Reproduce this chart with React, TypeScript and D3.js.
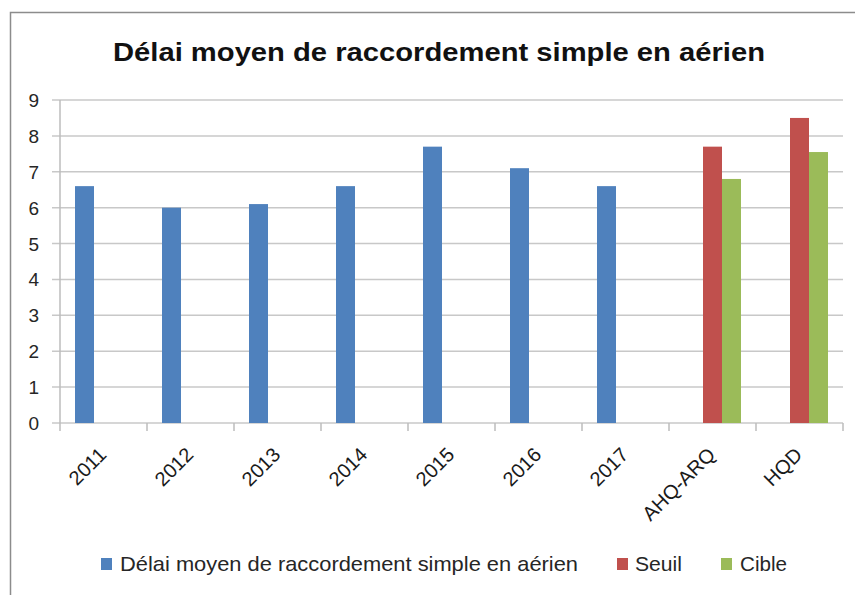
import React from 'react';
import * as d3 from 'd3';

const categories = ['2011', '2012', '2013', '2014', '2015', '2016', '2017', 'AHQ-ARQ', 'HQD'];
const delaiValues = [6.6, 6.0, 6.1, 6.6, 7.7, 7.1, 6.6, null, null];
const seuilValues = [null, null, null, null, null, null, null, 7.7, 8.5];
const cibleValues = [null, null, null, null, null, null, null, 6.8, 7.55];
const seriesNames = ['Délai moyen de raccordement simple en aérien', 'Seuil', 'Cible'];
const seriesColors = ['#4F81BD', '#C0504D', '#9BBB59'];
const yTicks = [0, 1, 2, 3, 4, 5, 6, 7, 8, 9];

const title = 'Délai moyen de raccordement simple en aérien';
const font = '"Liberation Sans", Arial, sans-serif';

const App = () => {
    const width = 855,
          height = 595,
          left = 60,
          right = 843,
          top = 100,
          bottom = 423;

    const series = [delaiValues, seuilValues, cibleValues];

    const x = d3.scaleBand<string>()
        .domain(categories)
        .range([left, right]);

    const xInner = d3.scaleBand<string>()
        .domain(seriesNames)
        .range([0, x.bandwidth()])
        .paddingOuter(0.79);

    const y = d3.scaleLinear()
        .domain([0, 9])
        .range([bottom, top]);

    // category boundaries for the small tick marks under the axis
    const boundaries = categories.map(c => x(c)).concat([right]);

    // legend: square x, text x, text width
    const legendItems = [
        { sq: 101, tx: 120, w: 458 },
        { sq: 617, tx: 635, w: 47 },
        { sq: 721, tx: 740, w: 47 },
    ];

    return (
        <div style={{ position: 'absolute', left: 0, top: 0 }}>
            <svg width={width} height={height} style={{ display: 'block', background: '#fff' }}>
                {/* chart frame: only top and left edges are visible */}
                <path d="M10.5,595 V12.5 H855" fill="none" stroke="#8c8c8c" strokeWidth={1.5} />

                <text x={439} y={61} textAnchor="middle" fontFamily={font} fontWeight="bold"
                      fontSize={25} fill="#111" textLength={652} lengthAdjust="spacingAndGlyphs">
                    {title}
                </text>

                {/* gridlines */}
                <g stroke="#c8c8c8" strokeWidth={1.5}>
                    {yTicks.map(t => (
                        <line key={t} x1={left - 8} x2={right} y1={y(t)} y2={y(t)} />
                    ))}
                </g>

                {/* y axis */}
                <line x1={left} x2={left} y1={top} y2={bottom} stroke="#bdbdbd" strokeWidth={1.5} />
                <g fontFamily={font} fontSize={19} fill="#262626" textAnchor="end">
                    {yTicks.map(t => (
                        <text key={t} x={39} y={y(t) + 7}>{t}</text>
                    ))}
                </g>

                {/* x axis ticks */}
                <g stroke="#bdbdbd" strokeWidth={1.5}>
                    {boundaries.map((b, i) => (
                        <line key={i} x1={b} x2={b} y1={bottom} y2={bottom + 8} />
                    ))}
                </g>

                {/* bars */}
                {series.map((vals, si) => (
                    <g key={si} fill={seriesColors[si]}>
                        {vals.map((v, i) => v == null ? null : (
                            <rect key={i}
                                  x={x(categories[i]) + xInner(seriesNames[si])}
                                  y={y(v)}
                                  width={xInner.bandwidth()}
                                  height={y(0) - y(v)} />
                        ))}
                    </g>
                ))}

                {/* x labels, rotated */}
                <g fontFamily={font} fontSize={20} fill="#1a1a1a" textAnchor="end">
                    {categories.map(c => {
                        const cx = x(c) + x.bandwidth() / 2 + 4;
                        const cy = bottom + 33;
                        return (
                            <text key={c} x={cx} y={cy} transform={`rotate(-45, ${cx}, ${cy})`}>{c}</text>
                        );
                    })}
                </g>

                {/* legend */}
                <g fontFamily={font} fontSize={21} fill="#262626">
                    {legendItems.map((l, i) => (
                        <g key={i}>
                            <rect x={l.sq} y={558} width={11} height={12} fill={seriesColors[i]} />
                            <text x={l.tx} y={571} textLength={l.w} lengthAdjust="spacingAndGlyphs">{seriesNames[i]}</text>
                        </g>
                    ))}
                </g>
            </svg>
        </div>
    );
};

export default App;
